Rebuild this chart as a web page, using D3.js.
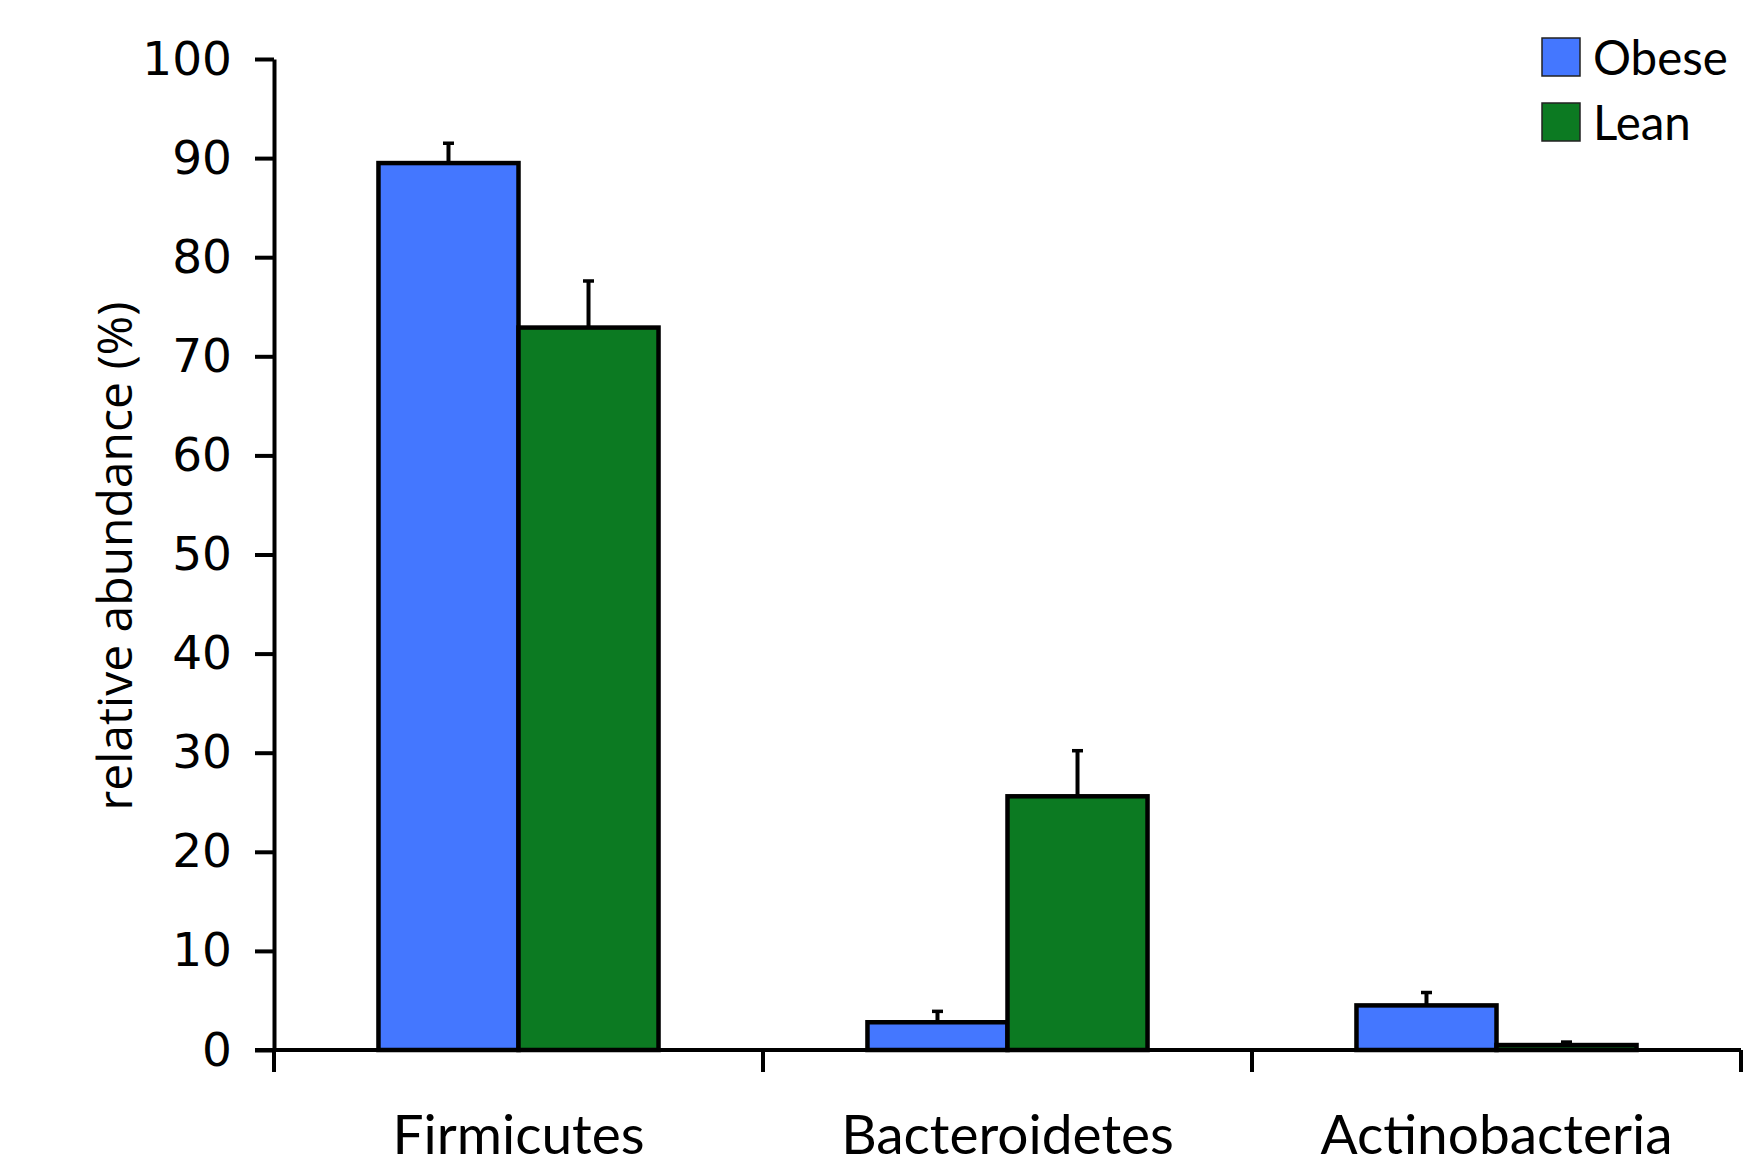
<!DOCTYPE html>
<html>
<head>
<meta charset="utf-8">
<script src="https://cdn.jsdelivr.net/npm/d3@7"></script>
<style>
  html, body { margin: 0; padding: 0; background: #fff; }
  svg { display: block; }
</style>
</head>
<body>
<svg id="chart" width="1743" height="1168"></svg>
<script>
// Relative abundance of bacterial phyla, obese vs lean
const categories = ["Firmicutes", "Bacteroidetes", "Actinobacteria"];
const groups = ["Obese", "Lean"];
const obeseValues = [89.5, 2.8, 4.5];
const obeseErrors = [2.0, 1.1, 1.3];
const leanValues = [72.9, 25.6, 0.5];
const leanErrors = [4.7, 4.6, 0.3];
const yTicks = [0, 10, 20, 30, 40, 50, 60, 70, 80, 90, 100];

const colors = { Obese: "#4477FF", Lean: "#0C7A22" };

const rows = categories.map((c, i) => ({
  category: c,
  bars: [
    { group: "Obese", value: obeseValues[i], err: obeseErrors[i] },
    { group: "Lean", value: leanValues[i], err: leanErrors[i] }
  ]
}));

const svg = d3.select("#chart");
const plotLeft = 274, plotRight = 1741, plotTop = 59, plotBottom = 1050;

const x0 = d3.scaleBand().domain(categories).range([plotLeft, plotRight]).padding(0);
const x1 = d3.scaleBand().domain(groups).range([0, x0.bandwidth()])
  .paddingInner(0).paddingOuter(0.746);
const y = d3.scaleLinear().domain([0, 100]).range([plotBottom, plotTop]);

// bars
const g = svg.append("g");
const cat = g.selectAll("g.cat").data(rows).join("g")
  .attr("class", "cat")
  .attr("transform", d => `translate(${x0(d.category)},0)`);

cat.selectAll("rect").data(d => d.bars).join("rect")
  .attr("x", d => x1(d.group))
  .attr("y", d => y(d.value))
  .attr("width", x1.bandwidth())
  .attr("height", d => y(0) - y(d.value))
  .attr("fill", d => colors[d.group])
  .attr("stroke", "#000")
  .attr("stroke-width", 4.5);

// upper error bars
const capW = 11;
cat.selectAll("g.err").data(d => d.bars).join("g")
  .attr("class", "err")
  .each(function(d) {
    const cx = x1(d.group) + x1.bandwidth() / 2;
    const s = d3.select(this);
    s.append("line")
      .attr("x1", cx).attr("x2", cx)
      .attr("y1", y(d.value)).attr("y2", y(d.value + d.err))
      .attr("stroke", "#000").attr("stroke-width", 4);
    s.append("line")
      .attr("x1", cx - capW / 2).attr("x2", cx + capW / 2)
      .attr("y1", y(d.value + d.err)).attr("y2", y(d.value + d.err))
      .attr("stroke", "#000").attr("stroke-width", 3.5);
  });

// y axis
const yAxis = d3.axisLeft(y).tickValues(yTicks).tickSize(19).tickPadding(23).tickSizeOuter(0);
const ya = svg.append("g").attr("transform", `translate(${plotLeft},0)`).call(yAxis);
ya.select(".domain").attr("stroke", "#000").attr("stroke-width", 4);
ya.selectAll(".tick line").attr("stroke", "#000").attr("stroke-width", 4);
ya.selectAll(".tick text")
  .attr("fill", "#000")
  .style("font-family", "'DejaVu Sans', Verdana, sans-serif")
  .style("font-size", "47px");

// x axis with ticks at category boundaries
const xa = svg.append("g").attr("transform", `translate(0,${plotBottom})`);
xa.append("line")
  .attr("x1", plotLeft - 19).attr("x2", plotRight)
  .attr("stroke", "#000").attr("stroke-width", 4);
const boundaries = categories.map(c => x0(c)).concat([x0(categories[categories.length - 1]) + x0.bandwidth()]);
xa.selectAll("line.tk").data(boundaries).join("line")
  .attr("class", "tk")
  .attr("x1", d => d).attr("x2", d => d)
  .attr("y1", 0).attr("y2", 22)
  .attr("stroke", "#000").attr("stroke-width", 4);
xa.selectAll("text").data(categories).join("text")
  .attr("x", d => x0(d) + x0.bandwidth() / 2)
  .attr("y", 104)
  .attr("text-anchor", "middle")
  .style("font-family", "Lato, sans-serif")
  .style("font-size", "55px")
  .attr("fill", "#000")
  .text(d => d);

// y axis title
svg.append("text")
  .attr("transform", "translate(132,556) rotate(-90)")
  .attr("text-anchor", "middle")
  .style("font-family", "'Open Sans', sans-serif")
  .style("font-size", "48px")
  .attr("fill", "#000")
  .text("relative abundance (%)");

// legend
const legend = svg.append("g").attr("transform", "translate(1542,38)");
const li = legend.selectAll("g").data(groups).join("g")
  .attr("transform", (d, i) => `translate(0,${i * 65})`);
li.append("rect")
  .attr("width", 38).attr("height", 38)
  .attr("fill", d => colors[d])
  .attr("stroke", "#222").attr("stroke-width", 1.5);
li.append("text")
  .attr("x", 51).attr("y", 37)
  .style("font-family", "Lato, sans-serif")
  .style("font-size", "47.5px")
  .attr("fill", "#000")
  .text(d => d);
</script>
</body>
</html>
